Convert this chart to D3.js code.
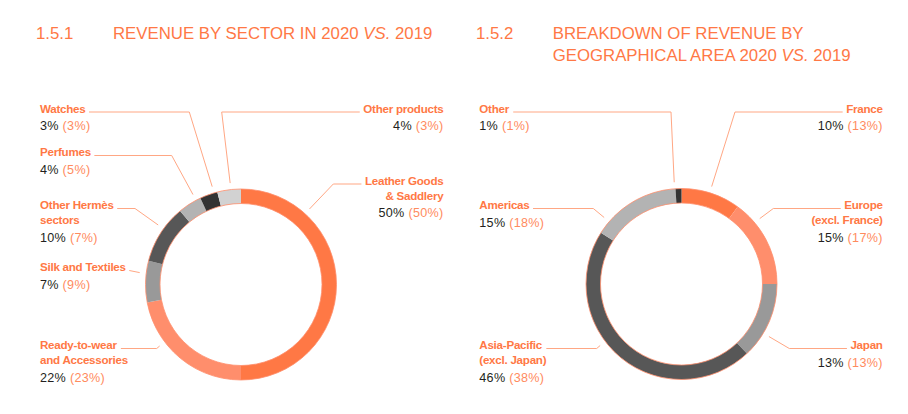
<!DOCTYPE html>
<html><head><meta charset="utf-8">
<script src="https://cdn.jsdelivr.net/npm/d3@7"></script>
<style>
html,body{margin:0;padding:0;background:#fff;}
svg{display:block;}
</style></head>
<body>
<svg id="chart" width="908" height="414"></svg>
<script>
// ---- DATA ----
const sectorCategories = ["Leather Goods & Saddlery","Ready-to-wear and Accessories","Silk and Textiles","Other Hermès sectors","Perfumes","Watches","Other products"];
const sectorLabelLines = [["Leather Goods","& Saddlery"],["Ready-to-wear","and Accessories"],["Silk and Textiles"],["Other Hermès","sectors"],["Perfumes"],["Watches"],["Other products"]];
const sector2020 = [50,22,7,10,4,3,4];
const sector2019 = [50,23,9,7,5,3,3];

const geoCategories = ["France","Europe (excl. France)","Japan","Asia-Pacific (excl. Japan)","Americas","Other"];
const geoLabelLines = [["France"],["Europe","(excl. France)"],["Japan"],["Asia-Pacific","(excl. Japan)"],["Americas"],["Other"]];
const geo2020 = [10,15,13,46,15,1];
const geo2019 = [13,17,13,38,18,1];

const titleNumbers = ["1.5.1","1.5.2"];
const titleLines = [[["REVENUE BY SECTOR IN 2020 ", "VS.", " 2019"]],[["BREAKDOWN OF REVENUE BY"],["GEOGRAPHICAL AREA 2020 ","VS."," 2019"]]];

// ---- STYLE / LAYOUT ----
const ORANGE = "#FF7845", ORANGE_LIGHT = "#FF8E6C", LINE = "#FFA784", VALUE_PAREN = "#FF8B5E", BLACK = "#231F20";
const sectorColors = [ORANGE, ORANGE_LIGHT, "#999999", "#575757", "#B3B3B3", "#333333", "#D2D2D2"];
const geoColors = [ORANGE, ORANGE_LIGHT, "#999999", "#575757", "#B3B3B3", "#333333"];

const sectorLayout = [
  {anchor:"end",   x:443.5, y:184.5, elbow:333.3, tip:42.2},
  {anchor:"start", x:40,    y:349,   elbow:156.7, tip:-127.1},
  {anchor:"start", x:40,    y:271,   elbow:null,  tip:-83.3},
  {anchor:"start", x:40,    y:209,   elbow:135,   tip:-54.3},
  {anchor:"start", x:40,    y:156,   elbow:171.7, tip:-28.1},
  {anchor:"start", x:40,    y:112.5, elbow:189.3, tip:-16.4},
  {anchor:"end",   x:443.5, y:112.5, elbow:221.7, tip:-6.1}
];
const geoLayout = [
  {anchor:"end",   x:882.7, y:112.5, elbow:735,   tip:17.2},
  {anchor:"end",   x:882.7, y:209,   elbow:773.3, tip:50.1},
  {anchor:"end",   x:882.7, y:349,   elbow:789.3, tip:121},
  {anchor:"start", x:479.3, y:349,   elbow:596.7, tip:-127.1},
  {anchor:"start", x:479.3, y:209,   elbow:593.3, tip:-49.3},
  {anchor:"start", x:479.3, y:112.5, elbow:671,   tip:-4.1}
];

const svg = d3.select("#chart");
const FONT = "'Liberation Sans', Arial, sans-serif";

// ---- TITLES ----
const titlePos = [{nx:36, tx:113, y:38.5},{nx:476, tx:552.7, y:38.5}];
titleNumbers.forEach((num,i)=>{
  const p = titlePos[i];
  svg.append("text").attr("x",p.nx).attr("y",p.y).attr("font-family",FONT).attr("font-size",16.8)
    .attr("fill",ORANGE).text(num);
  titleLines[i].forEach((parts,j)=>{
    const t = svg.append("text").attr("x",p.tx).attr("y",p.y + j*22.5).attr("font-family",FONT)
      .attr("font-size",16.8).attr("fill",ORANGE);
    parts.forEach(s=>{
      const ts = t.append("tspan").text(s);
      if (s==="VS.") ts.attr("font-style","italic");
    });
  });
});

// ---- DONUTS ----
function donut(cx, cy, values, prev, colors, labels, layout){
  const g = svg.append("g").attr("transform",`translate(${cx},${cy})`);
  const pie = d3.pie().sort(null).value(d=>d);
  const rOut = 95.5, rIn = 81;
  const arc = d3.arc().innerRadius(rIn).outerRadius(rOut);
  g.selectAll("path.seg").data(pie(values)).join("path").attr("class","seg")
    .attr("d",arc).attr("fill",(d,i)=>colors[i]);
  [rOut, rIn].forEach(r=>g.append("circle").attr("r",r).attr("fill","none")
    .attr("stroke",ORANGE_LIGHT).attr("stroke-width",0.8));

  const tipR = 102;
  labels.forEach((lines,i)=>{
    const L = layout[i];
    const lg = svg.append("g");
    let lastY = L.y;
    let firstText = null;
    lines.forEach((ln,j)=>{
      const t = lg.append("text").attr("x",L.x).attr("y",L.y + j*15).attr("text-anchor",L.anchor)
        .attr("font-family",FONT).attr("font-size",11.6).attr("font-weight","bold")
        .attr("letter-spacing","-0.25px").attr("fill",ORANGE).text(ln);
      if (j===0) firstText = t;
      lastY = L.y + j*15;
    });
    const vt = lg.append("text").attr("x",L.x).attr("y",lastY + 17.5).attr("text-anchor",L.anchor)
      .attr("font-family",FONT).attr("font-size",12.6).attr("letter-spacing","0.3px");
    vt.append("tspan").attr("fill",BLACK).text(values[i] + "% ");
    vt.append("tspan").attr("fill",VALUE_PAREN).text("(" + prev[i] + "%)");

    // leader line
    const bb = firstText.node().getBBox();
    const gap = 3.5;
    const sx = L.anchor==="start" ? bb.x + bb.width + gap : bb.x - gap;
    const ly = L.y - 0.5;
    const a = L.tip * Math.PI/180;
    const tx = cx + tipR*Math.sin(a), ty = cy - tipR*Math.cos(a);
    const pts = [[sx, ly]];
    if (L.elbow !== null) pts.push([L.elbow, ly]);
    pts.push([tx, ty]);
    svg.append("path").attr("d", d3.line()(pts)).attr("fill","none")
      .attr("stroke",LINE).attr("stroke-width",1);
  });
}

donut(241, 284.5, sector2020, sector2019, sectorColors, sectorLabelLines, sectorLayout);
donut(681.5, 284, geo2020, geo2019, geoColors, geoLabelLines, geoLayout);
</script>
</body></html>
